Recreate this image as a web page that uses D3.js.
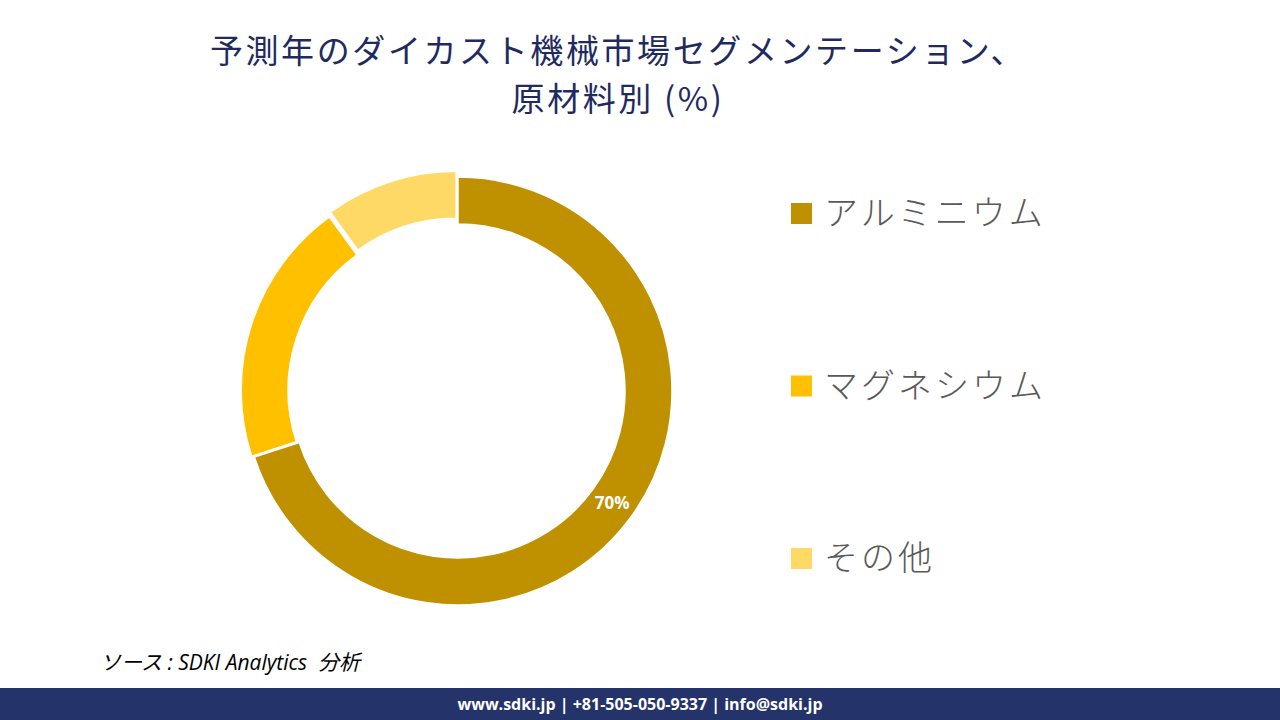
<!DOCTYPE html>
<html><head><meta charset="utf-8">
<script src="https://cdn.jsdelivr.net/npm/d3@7"></script>
<style>body{margin:0;background:#fff}svg{display:block}</style>
</head><body>
<svg id="c" width="1280" height="720"></svg>
<script>
const categories = ["アルミニウム", "マグネシウム", "その他"];
const values = [70, 20, 10];
const colors = ["#BF9000", "#FFC000", "#FFD966"];
const explode = [0, 3, 6];
const titleLines = ["予測年のダイカスト機械市場セグメンテーション、", "原材料別 (%)"];
const sourceText = "ソース : SDKI Analytics  分析";
const footerText = "www.sdki.jp | +81-505-050-9337 | info@sdki.jp";

const svg = d3.select("#c");
const jp = "'Noto Sans CJK JP', 'Noto Sans', sans-serif";

// title
svg.selectAll("text.title").data(titleLines).enter().append("text")
  .attr("class","title")
  .attr("x", 618).attr("y", (d,i)=> 63 + i*48)
  .attr("text-anchor","middle")
  .attr("font-family", jp).attr("font-size", 33).attr("letter-spacing", 2.6)
  .attr("fill","#1F2B5E")
  .text(d=>d);

// donut
const cx = 458, cy = 391, rOuter = 214, rInner = 167;
const pie = d3.pie().sort(null).value(d=>d)(values);
const arc = d3.arc().innerRadius(rInner).outerRadius(rOuter);
const g = svg.append("g").attr("transform", `translate(${cx},${cy})`);
g.selectAll("path").data(pie).enter().append("path")
  .attr("d", arc)
  .attr("fill", (d,i)=>colors[i])
  .attr("stroke","#fff").attr("stroke-width",1.5)
  .attr("transform", (d,i)=>{
    const a = (d.startAngle + d.endAngle)/2;
    return `translate(${Math.sin(a)*explode[i]},${-Math.cos(a)*explode[i]})`;
  });
g.append("text")
  .attr("transform", `translate(${arc.centroid(pie[0])})`)
  .attr("text-anchor","middle").attr("dy","0.35em")
  .attr("font-family","'Open Sans', sans-serif").attr("font-weight","bold")
  .attr("font-size", 17).attr("fill","#fff")
  .text(values[0] + "%");

// legend
const ly = d3.scalePoint().domain(categories).range([213, 558]);
const leg = svg.selectAll("g.leg").data(categories).enter().append("g")
  .attr("transform", d=>`translate(791,${ly(d)})`);
leg.append("rect").attr("x",0).attr("y",-10).attr("width",21).attr("height",21)
  .attr("fill",(d,i)=>colors[i]);
leg.append("text").attr("x",33).attr("y",0).attr("dy","0.36em")
  .attr("font-family", jp).attr("font-weight", 300).attr("font-size",34)
  .attr("letter-spacing", 3).attr("fill","#595959").text(d=>d);

// source
svg.append("text").attr("x",100).attr("y",670)
  .style("white-space","pre")
  .attr("font-family","'Open Sans', 'Noto Sans CJK JP', sans-serif").attr("font-style","italic")
  .attr("font-size",21).attr("fill","#000").text(sourceText);

// footer
svg.append("rect").attr("x",0).attr("y",688).attr("width",1280).attr("height",32).attr("fill","#25336B");
svg.append("text").attr("x",640).attr("y",710).attr("text-anchor","middle")
  .attr("font-family","'Open Sans', sans-serif").attr("font-weight","bold")
  .attr("font-size",16).attr("fill","#fff").text(footerText);
</script>
</body></html>
